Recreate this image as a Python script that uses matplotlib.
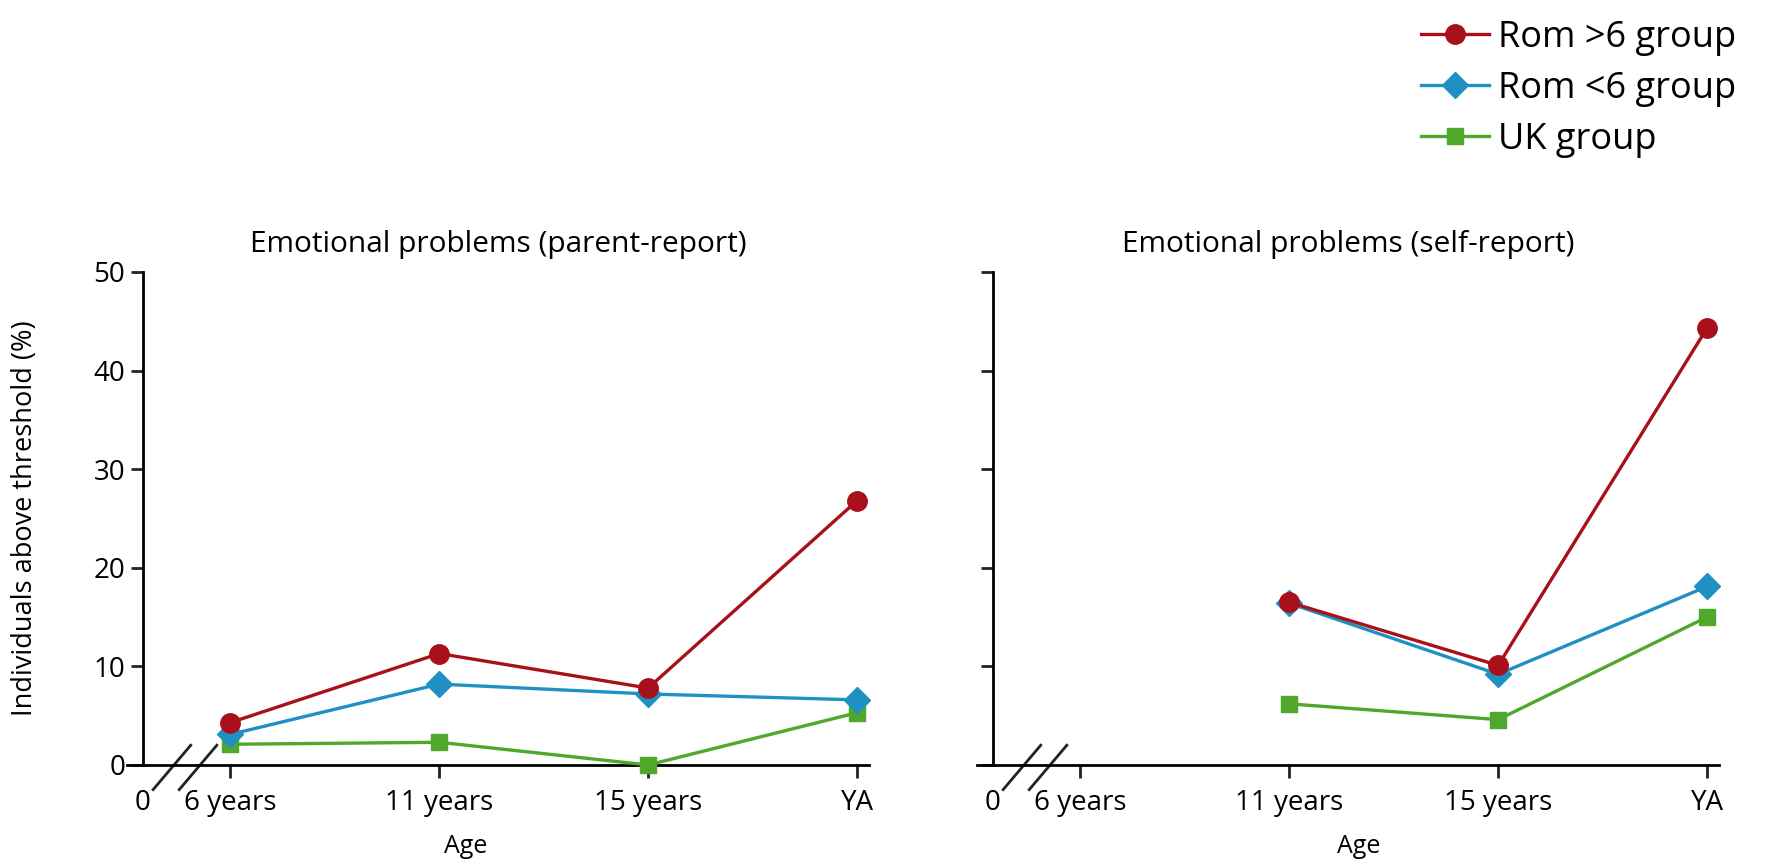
import matplotlib
matplotlib.use('Agg')
import matplotlib.pyplot as plt
import matplotlib.transforms as mtransforms
from matplotlib.lines import Line2D

plt.rcParams['font.family'] = ['Open Sans', 'DejaVu Sans']

# data
ages = ['6 years', '11 years', '15 years', 'YA']
x_pos = [1, 2, 3, 4]

parent_rom_gt6 = [4.3, 11.3, 7.8, 26.8]
parent_rom_lt6 = [3.1, 8.2, 7.2, 6.6]
parent_uk = [2.1, 2.3, 0.0, 5.3]

# self-report starts at 11 years
self_x = [2, 3, 4]
self_rom_gt6 = [16.5, 10.1, 44.3]
self_rom_lt6 = [16.4, 9.2, 18.1]
self_uk = [6.2, 4.6, 15.0]

groups = ['Rom >6 group', 'Rom <6 group', 'UK group']
colors = ['#a8101c', '#1f90c3', '#4fa82b']
markers = ['o', 'D', 's']
msizes = [14, 13, 12]

fig = plt.figure(figsize=(17.69, 8.6), dpi=100)
ax1 = fig.add_axes([0.0718, 0.1105, 0.4194, 0.5733])
ax2 = fig.add_axes([0.5523, 0.1105, 0.4194, 0.5733])

spine_x = 0.58


def style_axis(ax, title):
    ax.set_xlim(0.505, 4.057)
    ax.set_ylim(0, 50)
    for s in ['top', 'right']:
        ax.spines[s].set_visible(False)
    ax.spines['left'].set_position(('data', spine_x))
    ax.spines['left'].set_linewidth(2)
    ax.spines['bottom'].set_linewidth(2)
    ax.set_xticks([spine_x] + x_pos)
    ax.set_xticklabels(['0'] + ages)
    ax.set_yticks([0, 10, 20, 30, 40, 50])
    ax.tick_params(axis='both', width=2, length=9, labelsize=20, color='#222222')
    ax.tick_params(axis='x', pad=8)
    ax.xaxis.get_major_ticks()[0].tick1line.set_visible(False)
    ax.set_title(title, fontsize=21.5, pad=14)
    ax.set_xlabel('Age', fontsize=18)
    # axis break marks
    trans = mtransforms.blended_transform_factory(ax.transData, ax.transAxes)
    for x0 in [0.63, 0.755]:
        ax.plot([x0, x0 + 0.18], [-0.05, 0.04], color='#222222', lw=2,
                transform=trans, clip_on=False)


style_axis(ax1, 'Emotional problems (parent-report)')
style_axis(ax2, 'Emotional problems (self-report)')
ax2.set_yticklabels([])
ax1.set_ylabel('Individuals above threshold (%)', fontsize=19.5)
ax1.yaxis.set_label_coords(-0.118, 0.5)
ax1.xaxis.set_label_coords(0.457, -0.14)
ax2.xaxis.set_label_coords(0.515, -0.14)

parent = [parent_rom_gt6, parent_rom_lt6, parent_uk]
selfr = [self_rom_gt6, self_rom_lt6, self_uk]
for i in range(3):
    ax1.plot(x_pos, parent[i], color=colors[i], marker=markers[i], markersize=msizes[i],
             lw=2.4, clip_on=False, zorder=3 + (2 - i))
    ax2.plot(self_x, selfr[i], color=colors[i], marker=markers[i], markersize=msizes[i],
             lw=2.4, clip_on=False, zorder=3 + (2 - i))

handles = [Line2D([], [], color=colors[i], marker=markers[i], markersize=msizes[i], lw=2.4)
           for i in range(3)]
fig.legend(handles, groups, loc='upper right', bbox_to_anchor=(1.0, 1.015), frameon=False,
           fontsize=26, handlelength=1.9, handletextpad=0.25, labelspacing=0.42)

fig.savefig('out.png', dpi=100)
